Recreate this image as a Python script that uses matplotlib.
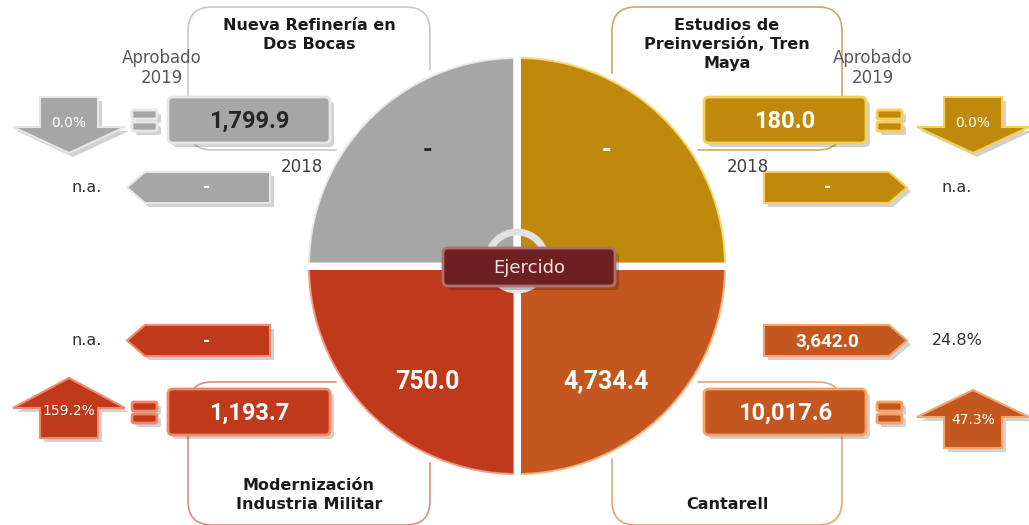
import matplotlib.pyplot as plt
from matplotlib.patches import FancyBboxPatch, Polygon, Circle

plt.rcParams['font.family'] = ['DejaVu Sans']
NUM_FONT = ['Roboto', 'DejaVu Sans']

# order: Cantarell, Modernizacion, Refineria, Tren Maya (pie order)
projects = ['Cantarell', 'Modernización\nIndustria Militar',
            'Nueva Refinería en\nDos Bocas', 'Estudios de\nPreinversión, Tren\nMaya']
ejercido = ['4,734.4', '750.0', '-', '-']
aprobado_2019 = ['10,017.6', '1,193.7', '1,799.9', '180.0']
monto_2018 = ['3,642.0', '-', '-', '-']
var_vs_ejercido = [47.3, 159.2, 0.0, 0.0]
var_vs_2018 = ['24.8%', 'n.a.', 'n.a.', 'n.a.']
quadrant_share = [1, 1, 1, 1]

colors = ['#C4571F', '#C0391B', '#A6A6A6', '#BF8A0C']
light = ['#F2A46A', '#EE8A6A', '#E6E6E6', '#F6CF5A']
frames = ['#E3A57A', '#D98C84', '#C8C8C8', '#C9A96A']
value_text = ['white', 'white', '#262626', 'white']
side = [1, -1, -1, 1]     # 1 = right, -1 = left
level = [1, 1, -1, -1]    # 1 = bottom, -1 = top

cx, cy, R = 517, 266, 211

fig = plt.figure(figsize=(10.29, 5.25), dpi=100)
ax = fig.add_axes([0, 0, 1, 1])

wedges, texts = ax.pie(quadrant_share, colors=colors, radius=R, center=(cx, cy),
                       startangle=0, counterclock=True, labels=ejercido,
                       labeldistance=0.68,
                       wedgeprops=dict(edgecolor='white', linewidth=5),
                       textprops=dict(fontsize=18, fontweight='bold',
                                      family=NUM_FONT))
for t, c in zip(texts, value_text):
    x, y = t.get_position()
    t.set_position((cx + (x - cx) * 0.88, cy + (y - cy) * 1.14))
    t.set_ha('center')
    t.set_va('center')
    t.set_color(c)
    t.set_zorder(8)
for w in wedges:
    w.set_zorder(1)
rims, _ = ax.pie(quadrant_share, colors=['none'] * 4, radius=R - 3, center=(cx, cy),
                 startangle=0, counterclock=True)
for w, lc in zip(rims, light):
    w.set_edgecolor(lc)
    w.set_linewidth(1.5)
    w.set_alpha(0.8)
    w.set_zorder(1.2)
ax.plot([cx, cx], [cy - R - 2, cy + R + 2], color='white', lw=5, zorder=3)
ax.plot([cx - R - 2, cx + R + 2], [cy, cy], color='white', lw=5, zorder=3)

ax.set_xlim(0, 1029)
ax.set_ylim(525, 0)
ax.axis('off')


def mx(x, s):
    # mirror x about the pie axis for right-hand side items
    return x if s < 0 else 1034 - x


def my(y, l):
    return y if l < 0 else 532 - y


def box(x0, x1, y0, y1, fc, ec, z=5, pad=4):
    sh = FancyBboxPatch((x0 + 4, y0 + 4), x1 - x0, y1 - y0,
                        boxstyle='round,pad=0,rounding_size=%d' % pad,
                        fc='#000000', ec='none', alpha=0.18, zorder=z)
    ax.add_patch(sh)
    b = FancyBboxPatch((x0, y0), x1 - x0, y1 - y0,
                       boxstyle='round,pad=0,rounding_size=%d' % pad,
                       fc=fc, ec=ec, lw=2, zorder=z + 0.1)
    ax.add_patch(b)


for i in range(4):
    s, l, c = side[i], level[i], colors[i]

    # frame behind with title
    xa, xb = sorted([mx(188, s), mx(430, s)])
    if s > 0:
        xa, xb = xa + 8, xb - 4
    ya, yb = sorted([my(7, l), my(150, l)])
    ax.add_patch(FancyBboxPatch((xa, ya), xb - xa, yb - ya,
                                boxstyle='round,pad=0,rounding_size=24',
                                fc='white', ec=frames[i], lw=1.2, zorder=0.5))
    tx = (xa + xb) / 2
    if l < 0:
        ax.text(tx, 18, projects[i], ha='center', va='top', fontsize=11.5,
                fontweight='bold', color='#1a1a1a', linespacing=1.35, zorder=6)
    else:
        ax.text(tx, 512, projects[i], ha='center', va='bottom', fontsize=11.5,
                fontweight='bold', color='#1a1a1a', linespacing=1.35, zorder=6)

    # approved 2019 value box
    bx0, bx1 = sorted([mx(168, s), mx(330, s)])
    by0, by1 = sorted([my(97, l), my(143, l)])
    box(bx0, bx1, by0, by1, c, light[i], pad=5)
    ax.text((bx0 + bx1) / 2, (by0 + by1) / 2 + 1, aprobado_2019[i], ha='center',
            va='center', fontsize=17, fontweight='bold', family=NUM_FONT,
            color=value_text[i], zorder=7)

    # equal sign
    ex0, ex1 = sorted([mx(132, s), mx(157, s)])
    ym = (by0 + by1) / 2
    for yy in (ym - 10, ym + 2):
        box(ex0, ex1, yy, yy + 9, c, light[i], pad=2)

    # big percentage arrow
    up = var_vs_ejercido[i] > 0
    ac = mx(69, s) + (8 if s > 0 else 0)
    if up and s > 0:
        tip, base, bottom = 390, 417, 448
    elif up:
        tip, base, bottom = 378, 408, 438
    else:
        tip, base, bottom = 153, 127, 97
    pts = [(ac - 29, bottom), (ac + 29, bottom), (ac + 29, base),
           (ac + 56, base), (ac, tip), (ac - 56, base), (ac - 29, base)]
    ax.add_patch(Polygon([(px + 4, py + 4) for px, py in pts], closed=True,
                         fc='black', ec='none', alpha=0.18, zorder=4))
    ax.add_patch(Polygon(pts, closed=True, fc=c, ec=light[i], lw=1.5, zorder=5))
    ty = base + 3 if up else base - 4
    ax.text(ac, ty, '%.1f%%' % var_vs_ejercido[i], ha='center', va='center',
            fontsize=10, color='white', zorder=7)

    # 2018 pentagon
    px0, px1 = sorted([mx(127, s), mx(270, s)])
    py0, py1 = sorted([my(172, l), my(203, l)])
    if l > 0:
        py0, py1 = py0 - 4, py1 - 4
    pm = (py0 + py1) / 2
    if s < 0:
        pts = [(px0, pm), (px0 + 18, py0), (px1, py0), (px1, py1), (px0 + 18, py1)]
    else:
        pts = [(px0, py0), (px1 - 18, py0), (px1, pm), (px1 - 18, py1), (px0, py1)]
    ax.add_patch(Polygon([(a + 4, b + 4) for a, b in pts], closed=True,
                         fc='black', ec='none', alpha=0.18, zorder=4))
    ax.add_patch(Polygon(pts, closed=True, fc=c, ec=light[i], lw=1.5, zorder=5))
    ax.text((px0 + px1) / 2 + (8 * -s), pm + 1, monto_2018[i], ha='center',
            va='center', fontsize=13.5, fontweight='bold', family=NUM_FONT,
            color='white', zorder=7)
    ax.text(mx(87, s) + (10 if s > 0 else 0), pm, var_vs_2018[i], ha='center',
            va='center', fontsize=11.5, color='#303030', zorder=7)

    if l < 0:
        ax.text(mx(162, s) + (1 if s > 0 else 0), 68, 'Aprobado\n2019', ha='center',
                va='center', fontsize=12, color='#595959', linespacing=1.1, zorder=7)
        ax.text(302 if s < 0 else 748, 167, '2018', ha='center', va='center',
                fontsize=12, color='#404040', zorder=7)

# center ring and label
ax.add_patch(Circle((cx, 261), 29, fill=False, ec='#E2E2E2', lw=5, zorder=6))
box(443, 615, 248, 286, '#6E1F1F', '#B07070', z=7, pad=5)
ax.text(cx + 12, 268, 'Ejercido', ha='center', va='center', fontsize=13,
        color='#F2E4E4', zorder=9)

fig.savefig('out.png', dpi=100)
